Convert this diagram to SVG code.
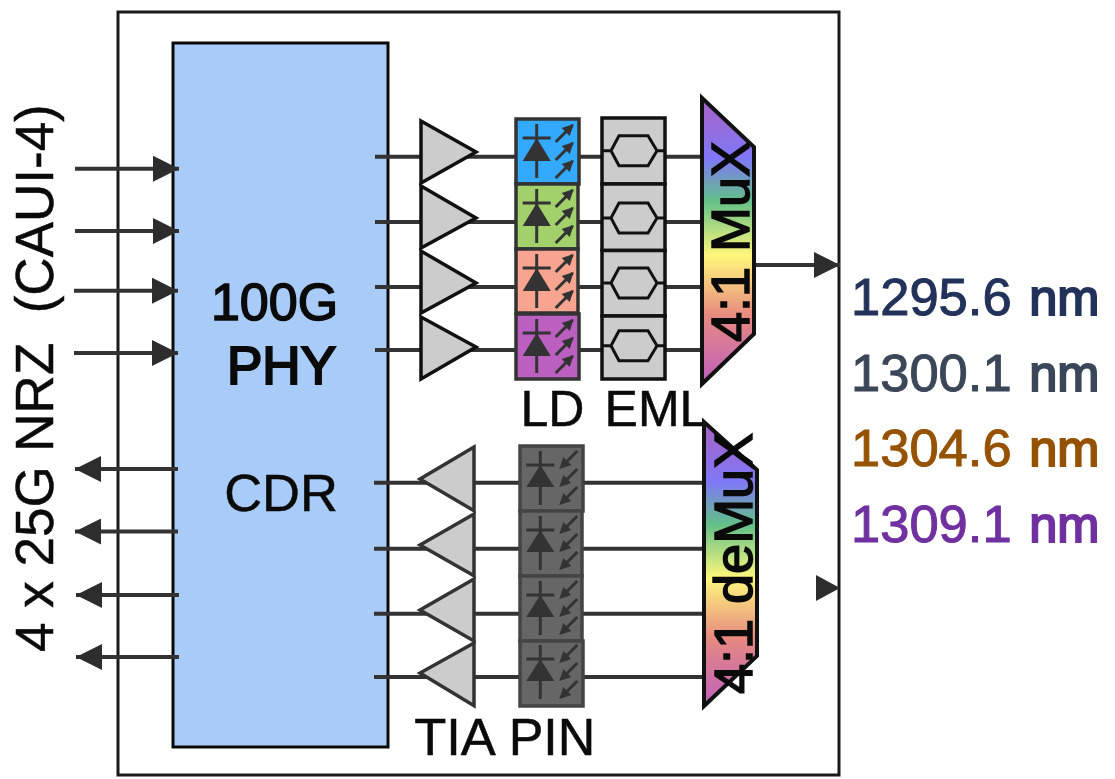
<svg xmlns="http://www.w3.org/2000/svg" width="1115" height="779" viewBox="0 0 1115 779">
<style>
text{font-family:"Liberation Sans",Arial,sans-serif;fill:#0a0a0a;stroke:#0a0a0a;stroke-width:.5}
.hv{stroke-width:1.5}
.w{fill:none;stroke:#333;stroke-width:4}
.tri{fill:#ccc;stroke:#111;stroke-width:3.5}
.trx{fill:#ccc;stroke:#333;stroke-width:3.5}
.ld{stroke:#333;stroke-width:3.5}
.pin{fill:#666;stroke:#444;stroke-width:3.5}
.eml{fill:#ccc;stroke:#111;stroke-width:3.5}
.hex{fill:none;stroke:#111;stroke-width:3}
.d{stroke:#333;stroke-width:3;fill:none}
.df{fill:#333}
.wl{font-size:52.500px;stroke-width:1}
.nm{font-size:50.500px;stroke-width:2}
</style>
<defs>
<linearGradient id="g" x1="0" y1="0" x2="0" y2="1">
<stop offset="0" stop-color="#A862C2"/>
<stop offset=".21" stop-color="#8078F8"/>
<stop offset=".36" stop-color="#62C088"/>
<stop offset=".55" stop-color="#FFF87C"/>
<stop offset=".76" stop-color="#E78A80"/>
<stop offset="1" stop-color="#BE5FBE"/>
</linearGradient>
<marker id="a" markerUnits="userSpaceOnUse" markerWidth="26" markerHeight="26" refX="26" refY="13" orient="auto"><path d="M0 0L26 13L0 26Z" fill="#2d2d2d"/></marker>
<g id="dio">
<path class="d" d="M0-27V27M-14-13H14"/><path class="df" d="M0-13L14 10H-14Z"/>
<path class="d" d="M19-9L36-26M19 9L36-8M19 27L36 10"/>
<path class="df" d="M37-27L33-15L25-23ZM37-9L33 3L25-5ZM37 9L33 21L25 13Z"/>
</g>
<g id="dir">
<path class="d" d="M0-27V27M-14-13H14"/><path class="df" d="M0-13L14 9H-14Z"/>
<path class="d" d="M37-27L24-14M37-9L24 4M37 9L24 22"/>
<path class="df" d="M19-9L31-13L23-21ZM19 9L31 5L23-3ZM19 27L31 23L23 15Z"/>
</g>
<g id="hx"><path class="hex" d="M602 0H611L619-15H648L657 0H665M611 0L619 15H648L657 0"/></g>
</defs>
<rect width="1115" height="779" fill="#fff"/>
<g id="module"><rect x="118" y="12" width="721" height="763" fill="none" stroke="#1a1a1a" stroke-width="3"/></g>
<g id="phy"><rect x="173" y="43" width="215" height="704" fill="#A9CBF8" stroke="#0a0a0a" stroke-width="3"/>
<text class="hv" x="274.500" y="320" text-anchor="middle" font-size="52">100G</text>
<text x="281.500" y="384" text-anchor="middle" font-size="53" style="stroke-width:2.200">PHY</text>
<text x="281" y="511" text-anchor="middle" font-size="52.500">CDR</text></g>
<g id="connectors">
<path class="w" marker-end="url(#a)" d="M75 168.700H179"/>
<path class="w" marker-end="url(#a)" d="M75 231H179"/>
<path class="w" marker-end="url(#a)" d="M74 290.700H178"/>
<path class="w" marker-end="url(#a)" d="M74 353H178"/>
<path class="w" marker-end="url(#a)" d="M178 469H75"/>
<path class="w" marker-end="url(#a)" d="M178 531.500H75"/>
<path class="w" marker-end="url(#a)" d="M179 595H76"/>
<path class="w" marker-end="url(#a)" d="M179 657H76"/>
<path class="w" d="M375 156.700H421M466 156.700H516M579 156.700H602M665 156.700H702"/>
<path class="w" d="M375 222H421M466 222H516M579 222H602M665 222H702"/>
<path class="w" d="M375 287H421M466 287H516M579 287H602M665 287H702"/>
<path class="w" d="M375 350H421M466 350H516M579 350H602M665 350H702"/>
<path class="w" d="M374 482.700H430M474 482.700H520M583 482.700H704"/>
<path class="w" d="M374 548.700H430M474 548.700H520M583 548.700H704"/>
<path class="w" d="M374 613.700H430M474 613.700H520M583 613.700H704"/>
<path class="w" d="M374 677H430M474 677H520M583 677H704"/>
<path class="w" marker-end="url(#a)" d="M755 265H840"/>
<path fill="#2d2d2d" d="M816 575L840 588L816 601Z"/>
</g>
<g id="tx-drivers">
<path class="tri" d="M421 121L476 152L421 183Z"/>
<path class="tri" d="M421 186L476 218L421 248Z"/>
<path class="tri" d="M421 251L476 283L421 313Z"/>
<path class="tri" d="M421 317L476 347L421 379Z"/>
</g>
<g id="ld">
<rect class="ld" x="516" y="119" width="63" height="65" fill="#33AAFF"/>
<rect class="ld" x="516" y="184" width="62" height="65" fill="#A2D16C"/>
<rect class="ld" x="516" y="249" width="62" height="64" fill="#F7A490"/>
<rect class="ld" x="516" y="314" width="63" height="65" fill="#BB5FC0"/>
<use href="#dio" x="536.700" y="151"/>
<use href="#dio" x="536.700" y="216"/>
<use href="#dio" x="536.700" y="281"/>
<use href="#dio" x="536.700" y="346"/>
<text x="552.500" y="426" text-anchor="middle" font-size="50">LD</text>
</g>
<g id="eml">
<rect class="eml" x="602" y="118" width="63" height="66"/>
<rect class="eml" x="602" y="184" width="63" height="66.500"/>
<rect class="eml" x="602" y="250.500" width="63" height="65.500"/>
<rect class="eml" x="602" y="316" width="63" height="63"/>
<use href="#hx" y="150.700"/><use href="#hx" y="218"/><use href="#hx" y="283"/><use href="#hx" y="345.700"/>
<text x="656" y="426" text-anchor="middle" font-size="50">EML</text>
</g>
<g id="mux"><path d="M702 98L754 147V334L702 384Z" fill="url(#g)" stroke="#111" stroke-width="4"/>
<text class="hv" transform="translate(749 342) rotate(-90)" font-size="54">4:1 MuX</text></g>
<g id="tia">
<path class="trx" d="M474 447L420 479L474 510.700Z"/>
<path class="trx" d="M474 514L420 545L474 575.700Z"/>
<path class="trx" d="M474 579L420 610L474 641Z"/>
<path class="trx" d="M474 643L420 673L474 705.700Z"/>
<text x="455" y="755" text-anchor="middle" font-size="52.500">TIA</text>
</g>
<g id="pin">
<rect class="pin" x="520" y="446" width="63" height="65"/>
<rect class="pin" x="520" y="511" width="62" height="65"/>
<rect class="pin" x="520" y="576" width="62" height="65"/>
<rect class="pin" x="520" y="641" width="63" height="65"/>
<use href="#dir" x="540.300" y="478"/>
<use href="#dir" x="540.300" y="543"/>
<use href="#dir" x="540.300" y="608"/>
<use href="#dir" x="540.300" y="672"/>
<text x="552" y="755" text-anchor="middle" font-size="52">PIN</text>
</g>
<g id="demux"><path d="M704 422L757 470V656L704 706Z" fill="url(#g)" stroke="#111" stroke-width="4"/>
<text class="hv" transform="translate(752 694) rotate(-90)" font-size="54">4:1 deMuX</text></g>
<g id="labels">
<text transform="translate(53 652) rotate(-90)" font-size="53" xml:space="preserve">4 x 25G NRZ  (CAUI-4)</text>
<text class="wl" x="851" y="315" style="fill:#22325A;stroke:#22325A">1295.6 <tspan class="nm" dx="3">nm</tspan></text>
<text class="wl" x="851" y="390.500" style="fill:#3B4759;stroke:#3B4759">1300.1 <tspan class="nm" dx="3">nm</tspan></text>
<text class="wl" x="851" y="466" style="fill:#955200;stroke:#955200">1304.6 <tspan class="nm" dx="3">nm</tspan></text>
<text class="wl" x="851" y="541.500" style="fill:#7030A0;stroke:#7030A0">1309.1 <tspan class="nm" dx="3">nm</tspan></text>
</g>
</svg>
